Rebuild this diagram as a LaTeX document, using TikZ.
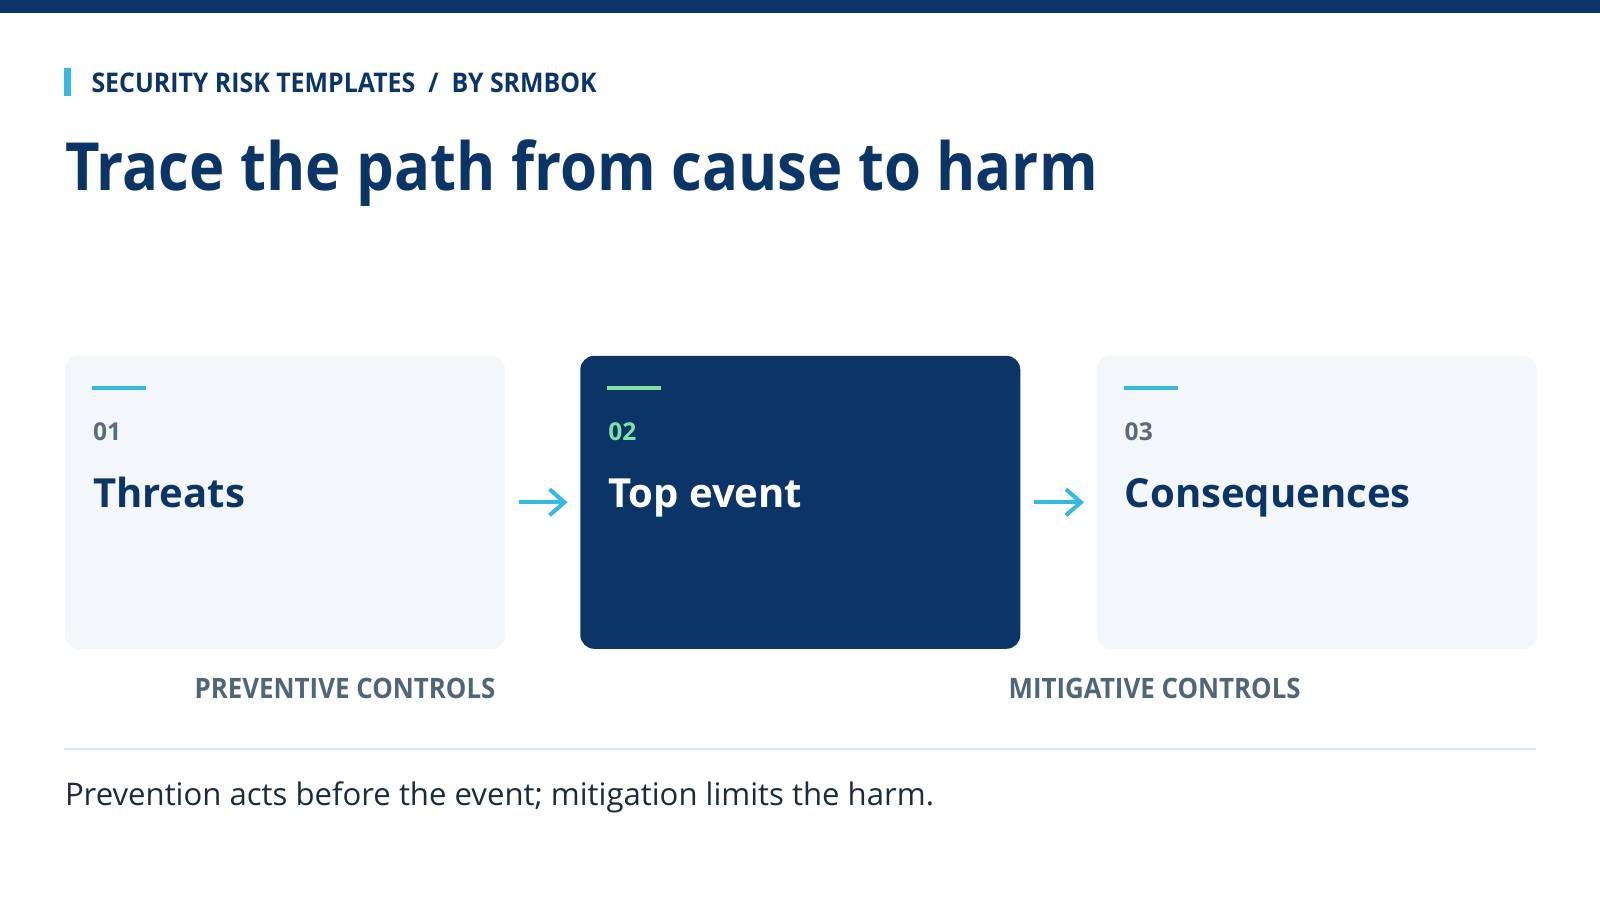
\documentclass[tikz,border=0pt]{standalone}
\usepackage{fontspec}
\setmainfont{Open Sans}
\newfontfamily\headfont[FakeStretch=0.9]{Open Sans}
\newfontfamily\capsfont[FakeStretch=0.92]{Open Sans}
\usetikzlibrary{positioning,arrows.meta}

\definecolor{navy}{HTML}{0B3566}
\definecolor{skyblue}{HTML}{35B8E2}
\definecolor{mint}{HTML}{86E0A6}
\definecolor{cardbg}{HTML}{F3F7FA}
\definecolor{numgray}{HTML}{5B6B7C}
\definecolor{slate}{HTML}{506579}
\definecolor{rulegray}{HTML}{DCE5EC}
\definecolor{inkdark}{HTML}{1C2B3C}

\tikzset{
  card/.style={anchor=north west, minimum width=4.4cm, minimum height=2.93cm,
    rounded corners=0.14cm, inner sep=0pt, fill=cardbg},
  cardtop/.style={card, fill=navy},
  accent/.style={line width=1.1pt, skyblue},
  num/.style={anchor=base west, inner sep=0pt, numgray, font=\fontsize{7}{8}\selectfont\bfseries},
  cardtitle/.style={anchor=base west, inner sep=0pt, navy, font=\fontsize{11.4}{13}\selectfont\bfseries},
  flow/.style={-{Straight Barb[length=1.5mm,width=2.6mm]}, line width=1.15pt, skyblue,
    shorten <=0.13cm, shorten >=0.12cm},
  ctrl/.style={anchor=base west, inner sep=0pt, slate, font=\capsfont\fontsize{8}{9}\selectfont\bfseries},
}

\begin{document}
\begin{tikzpicture}
\useasboundingbox (0,0) rectangle (16,9);
\fill[white] (0,0) rectangle (16,9);
\fill[navy] (0,9) rectangle (16,8.867); %top bar

% heading
\fill[skyblue] (0.643,8.316) rectangle (0.714,8.041);
\node[anchor=base west, inner sep=0pt, navy, font=\capsfont\fontsize{7.7}{9}\selectfont\bfseries]
  (kicker) at (0.908,8.071) {SECURITY RISK TEMPLATES \ / \ BY SRMBOK};
\node[anchor=base west, inner sep=0pt, navy, font=\headfont\fontsize{18.9}{22}\selectfont\bfseries]
  (headline) at (0.643,7.092) {Trace the path from cause to harm};

% cards
\node[card] (threats) at (0.643,5.449) {};
\node[cardtop] (topevent) at (5.796,5.449) {};
\node[card] (conseq) at (10.96,5.449) {};

\draw[accent] ([xshift=0.275cm,yshift=-0.327cm]threats.north west) -- ++(0.54,0);
\draw[accent,mint] ([xshift=0.275cm,yshift=-0.327cm]topevent.north west) -- ++(0.54,0);
\draw[accent] ([xshift=0.275cm,yshift=-0.327cm]conseq.north west) -- ++(0.54,0);

\node[num] (n1) at ([xshift=0.28cm,yshift=-0.857cm]threats.north west) {01};
\node[num,mint] (n2) at ([xshift=0.28cm,yshift=-0.857cm]topevent.north west) {02};
\node[num] (n3) at ([xshift=0.28cm,yshift=-0.857cm]conseq.north west) {03};

\node[cardtitle] (t1) at ([xshift=0.28cm,yshift=-1.52cm]threats.north west) {Threats};
\node[cardtitle,white] (t2) at ([xshift=0.28cm,yshift=-1.52cm]topevent.north west) {Top event};
\node[cardtitle] (t3) at ([xshift=0.28cm,yshift=-1.52cm]conseq.north west) {Consequences};

\draw[flow] (threats) -- (topevent);
\draw[flow] (topevent) -- (conseq);

% controls
\node[ctrl] (prev) at (1.939,2.02) {PREVENTIVE CONTROLS};
\node[ctrl] (miti) at (10.08,2.02) {MITIGATIVE CONTROLS};

\draw[rulegray, line width=0.6pt] (0.643,1.51) -- (15.357,1.51);
\node[anchor=base west, inner sep=0pt, inkdark, font=\fontsize{8.85}{11}\selectfont]
  (foot) at (0.643,0.95) {Prevention acts before the event; mitigation limits the harm.};
\end{tikzpicture}
\end{document}
